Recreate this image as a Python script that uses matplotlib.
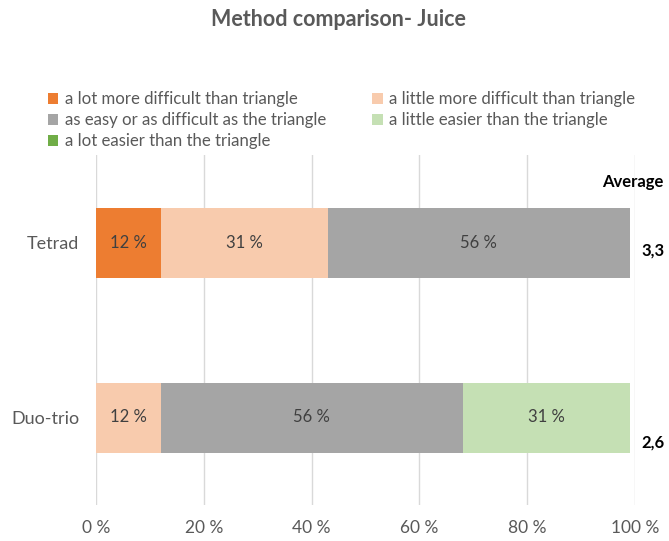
import matplotlib
matplotlib.use("Agg")
import matplotlib.pyplot as plt
from matplotlib.patches import Patch

plt.rcParams['font.family'] = ['Lato', 'DejaVu Sans']

methods = ["Tetrad", "Duo-trio"]
series_names = [
    "a lot more difficult than triangle",
    "a little more difficult than triangle",
    "as easy or as difficult as the triangle",
    "a little easier than the triangle",
    "a lot easier than the triangle",
]
lot_more = [12, 0]
little_more = [31, 12]
same = [56, 56]
little_easier = [0, 31]
lot_easier = [0, 0]
averages = [3.3, 2.6]
x_ticks = [0, 20, 40, 60, 80, 100]

colors = ["#ED7D31", "#F8CBAD", "#A5A5A5", "#C5E0B4", "#70AD47"]
series = [lot_more, little_more, same, little_easier, lot_easier]

W, H = 669, 541
fig = plt.figure(figsize=(W / 100, H / 100), dpi=100)
ax = fig.add_axes([96 / W, 1 - 505 / H, (635 - 96) / W, (505 - 155) / H])

ypos = [1, 0]  # Tetrad on top
left = [0.0, 0.0]
for vals, col in zip(series, colors):
    ax.barh(ypos, vals, left=left, height=0.4, color=col, zorder=3)
    for y, l, v in zip(ypos, left, vals):
        if v > 0:
            ax.text(l + v / 2, y, f"{v} %", ha="center", va="center",
                    fontsize=12, color="#404040", zorder=4)
    left = [a + b for a, b in zip(left, vals)]

ax.set_xlim(0, 100)
ax.set_ylim(-0.5, 1.5)
ax.set_xticks(x_ticks)
ax.set_xticklabels([f"{t} %" for t in x_ticks], fontsize=12.5, color="#595959")
ax.set_yticks(ypos)
ax.set_yticklabels(methods, fontsize=13, color="#595959")
ax.tick_params(axis="y", length=0, pad=12)
ax.tick_params(axis="x", length=0, pad=11)
ax.grid(axis="x", color="#D9D9D9", lw=1, zorder=0)
for s in ax.spines.values():
    s.set_visible(False)

# Average scores to the right of each bar
fig.text(663 / W, 1 - 182 / H, "Average", ha="right", va="center",
         fontsize=12, fontweight="bold", color="black")
avg_y = [251, 443]
for yp, a in zip(avg_y, averages):
    fig.text(641 / W, 1 - yp / H, f"{a:.1f}".replace(".", ","), ha="left",
             va="center", fontsize=12, fontweight="bold", color="black")

# Title
fig.text(338 / W, 1 - 20 / H, "Method comparison- Juice", ha="center",
         va="center", fontsize=15.5, fontweight="bold", color="#595959")

# Legend, filled row by row
handles = [Patch(facecolor=c, edgecolor="none") for c in colors]
order = [0, 2, 4, 1, 3]
leg = fig.legend([handles[i] for i in order], [series_names[i] for i in order],
                 ncol=2, loc="upper left", bbox_to_anchor=(48 / W, 1 - 91 / H),
                 frameon=False, fontsize=12.1, handlelength=0.62, handleheight=0.62,
                 handletextpad=0.38, labelspacing=0.3, columnspacing=2.75,
                 borderaxespad=0, borderpad=0)
for t in leg.get_texts():
    t.set_color("#595959")

fig.savefig("out.png", dpi=100, facecolor="white")
